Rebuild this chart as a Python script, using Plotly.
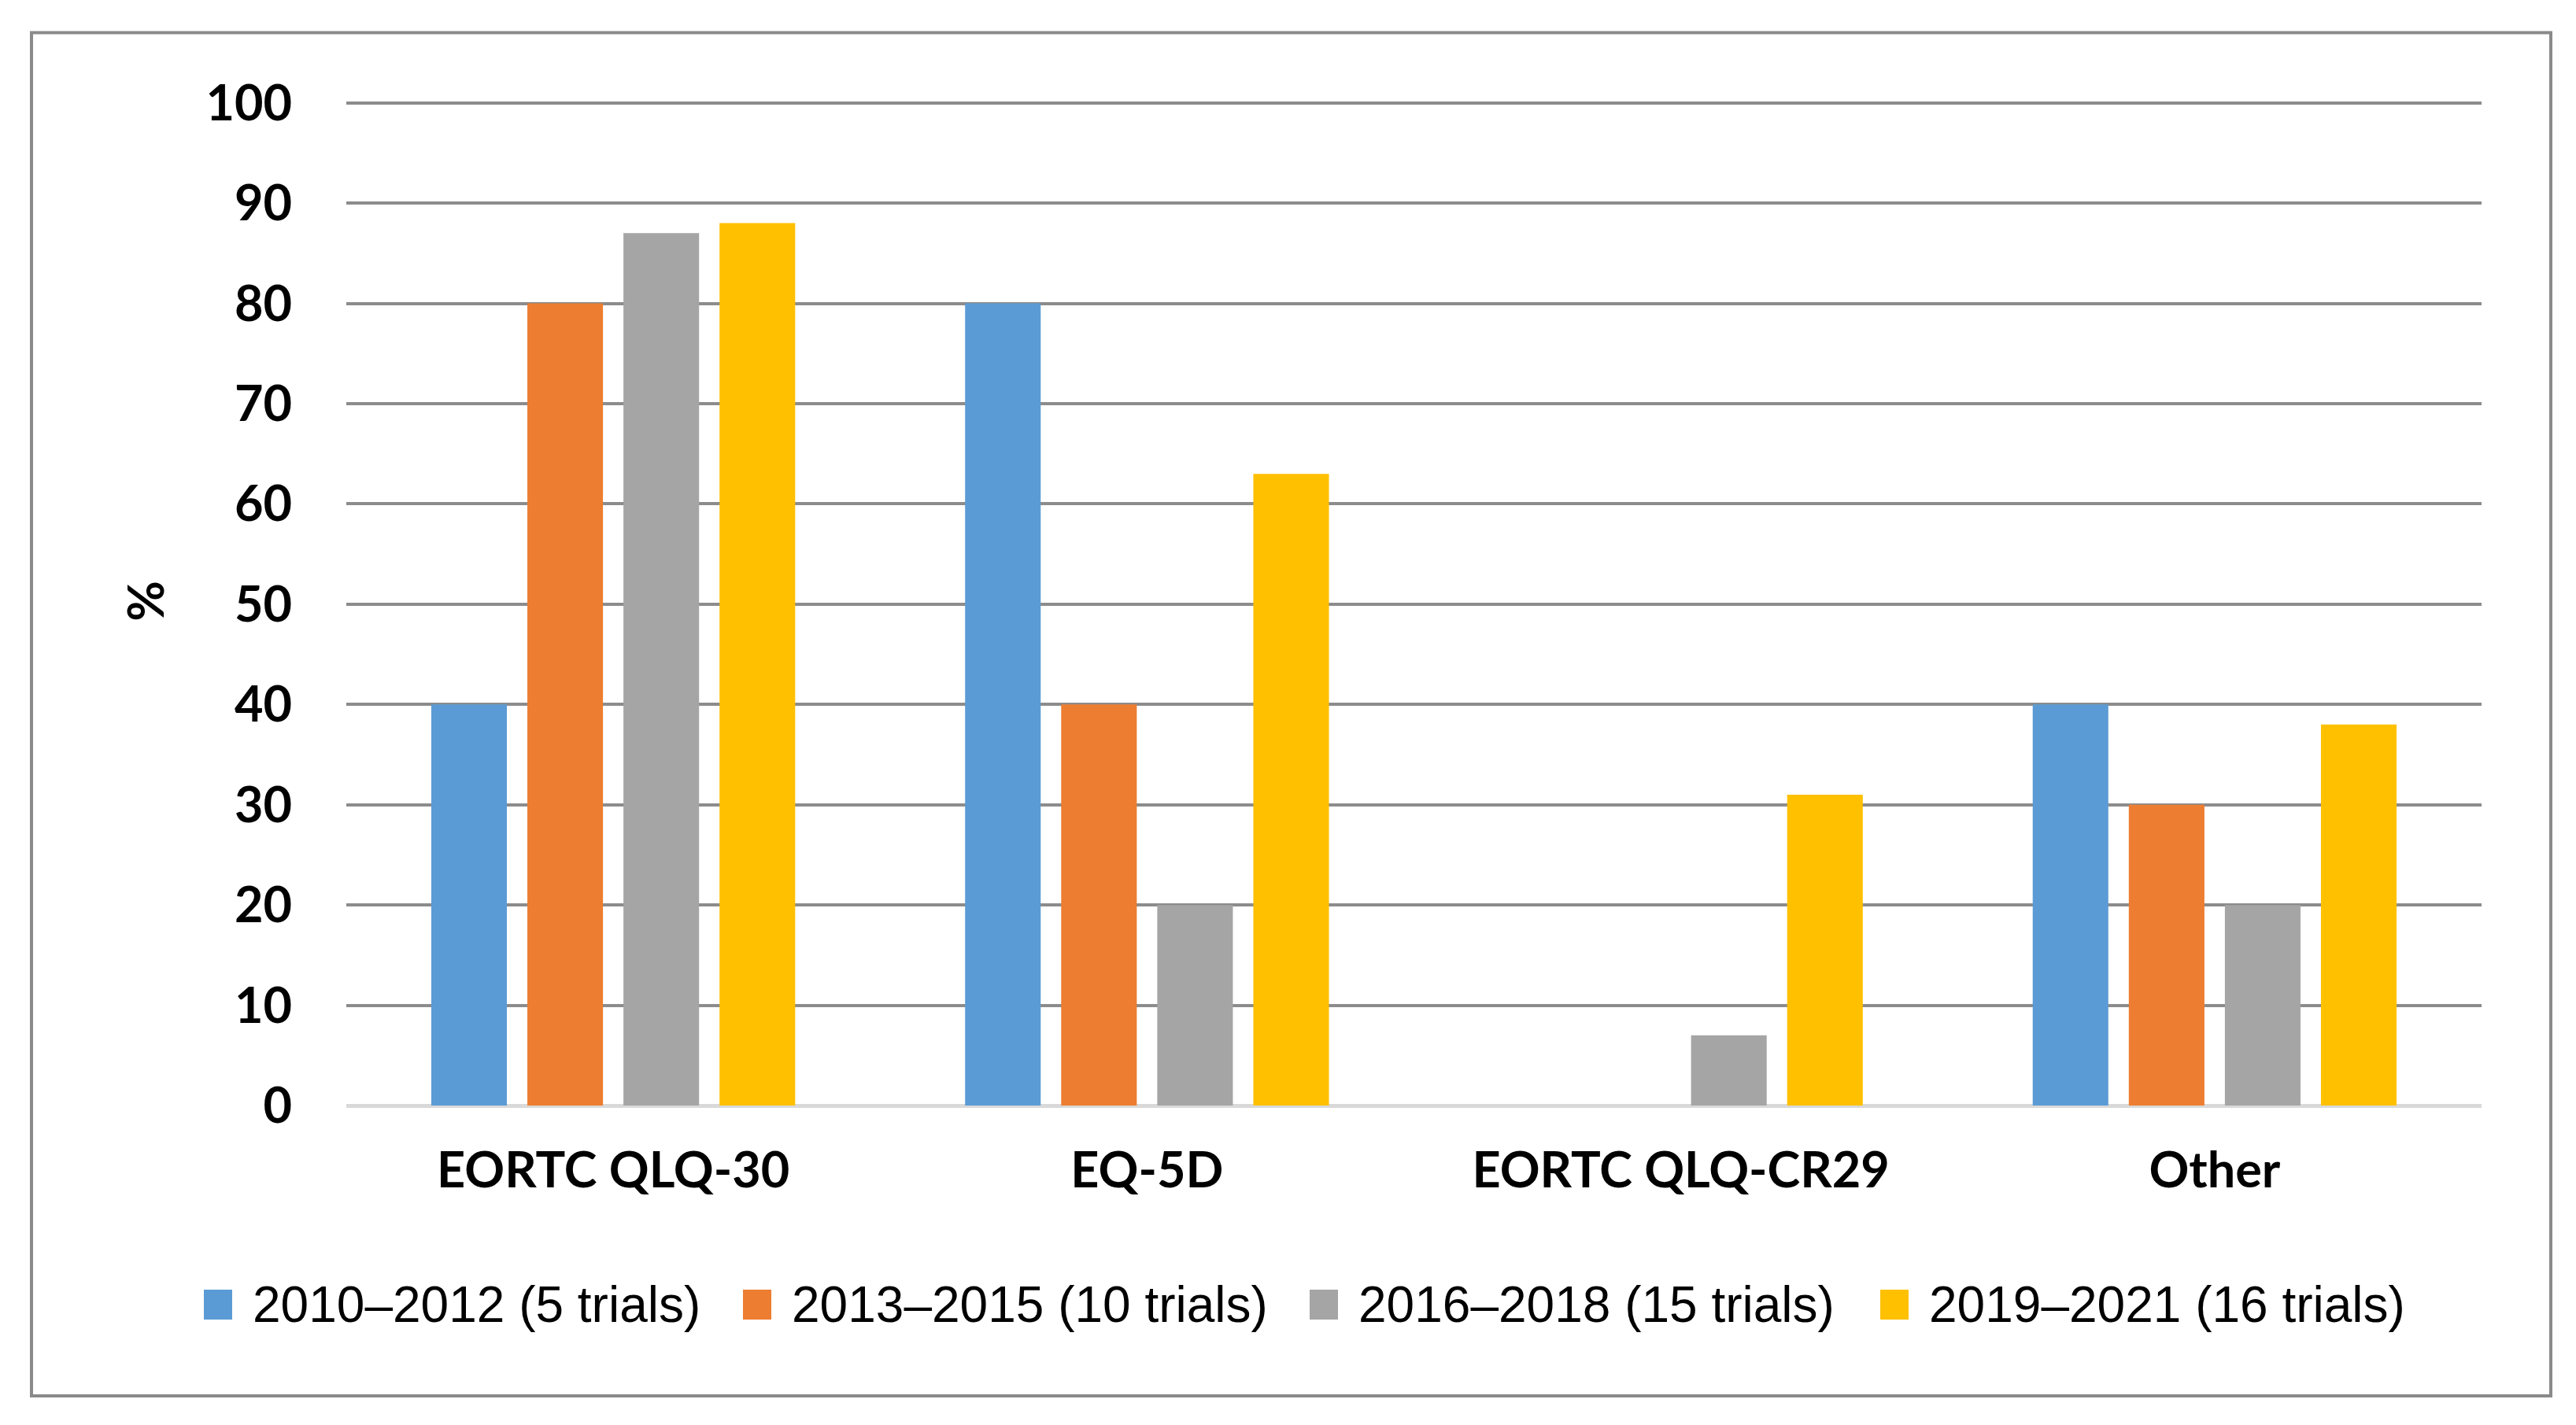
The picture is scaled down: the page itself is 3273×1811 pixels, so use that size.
import plotly.graph_objects as go

categories = ["EORTC QLQ-30", "EQ-5D", "EORTC QLQ-CR29", "Other"]
series_names = [
    "2010–2012 (5 trials)",
    "2013–2015 (10 trials)",
    "2016–2018 (15 trials)",
    "2019–2021 (16 trials)",
]
v_2010_2012 = [40, 80, 0, 40]
v_2013_2015 = [80, 40, 0, 30]
v_2016_2018 = [87, 20, 7, 20]
v_2019_2021 = [88, 63, 31, 38]
y_ticks = [0, 10, 20, 30, 40, 50, 60, 70, 80, 90, 100]

series_values = [v_2010_2012, v_2013_2015, v_2016_2018, v_2019_2021]
colors = ["#5B9BD5", "#ED7D31", "#A5A5A5", "#FFC000"]

W, H = 3273, 1811
L, R = 432, 3145
YMAX = 100.6
B = 1397
T = B - 12.74 * YMAX

fig = go.Figure()
for name, vals, col in zip(series_names, series_values, colors):
    fig.add_trace(go.Bar(name=name, x=categories, y=vals,
                         marker=dict(color=col, line=dict(width=0)), showlegend=False))

pw = R - L
ph = B - T
def px_x(x):
    return (x - L) / pw
def px_y(y):
    return (B - y) / ph

# legend (drawn as shapes + text so the swatch size matches the reference)
legend_text_x = [311, 996, 1716, 2441]
legend_cy = 1650
shapes = [dict(
    type="rect", xref="paper", yref="paper",
    x0=px_x(32), x1=px_x(3233), y0=px_y(1766), y1=px_y(34),
    line=dict(color="#8A8A8A", width=4), fillcolor="rgba(0,0,0,0)", layer="below",
)]
annotations = []
for name, col, tx in zip(series_names, colors, legend_text_x):
    shapes.append(dict(
        type="rect", xref="paper", yref="paper",
        x0=px_x(tx - 60), x1=px_x(tx - 24), y0=px_y(legend_cy + 19), y1=px_y(legend_cy - 19),
        line=dict(width=0), fillcolor=col,
    ))
    annotations.append(dict(
        text=name, xref="paper", yref="paper", x=px_x(tx), y=px_y(legend_cy),
        xanchor="left", yanchor="middle", showarrow=False,
        font=dict(family="Liberation Sans, Arial", size=64, color="#000000"),
    ))

fig.update_layout(
    width=W, height=H,
    margin=dict(l=L, r=W - R, t=T, b=H - B, pad=0),
    paper_bgcolor="white", plot_bgcolor="white",
    barmode="group", bargap=0.28, bargroupgap=0.213,
    showlegend=False,
    xaxis=dict(
        showgrid=False, showline=False, zeroline=False,
        tickfont=dict(family="Lato", size=63, color="#000000", weight="bold"),
        ticks="", ticklabelstandoff=40,
    ),
    yaxis=dict(
        range=[0, YMAX], tickvals=y_ticks, ticktext=[str(t) for t in y_ticks],
        showgrid=True, gridcolor="#8C8C8C", gridwidth=4,
        zeroline=True, zerolinecolor="#D9D9D9", zerolinewidth=5,
        showline=False, ticks="", ticklabelstandoff=68,
        tickfont=dict(family="Lato", size=63, color="#000000", weight="bold"),
        title=dict(text="%", standoff=32, font=dict(family="Lato", size=63, color="#000000", weight="bold")),
    ),
    shapes=shapes,
    annotations=annotations,
)

fig.write_html("out.html")
